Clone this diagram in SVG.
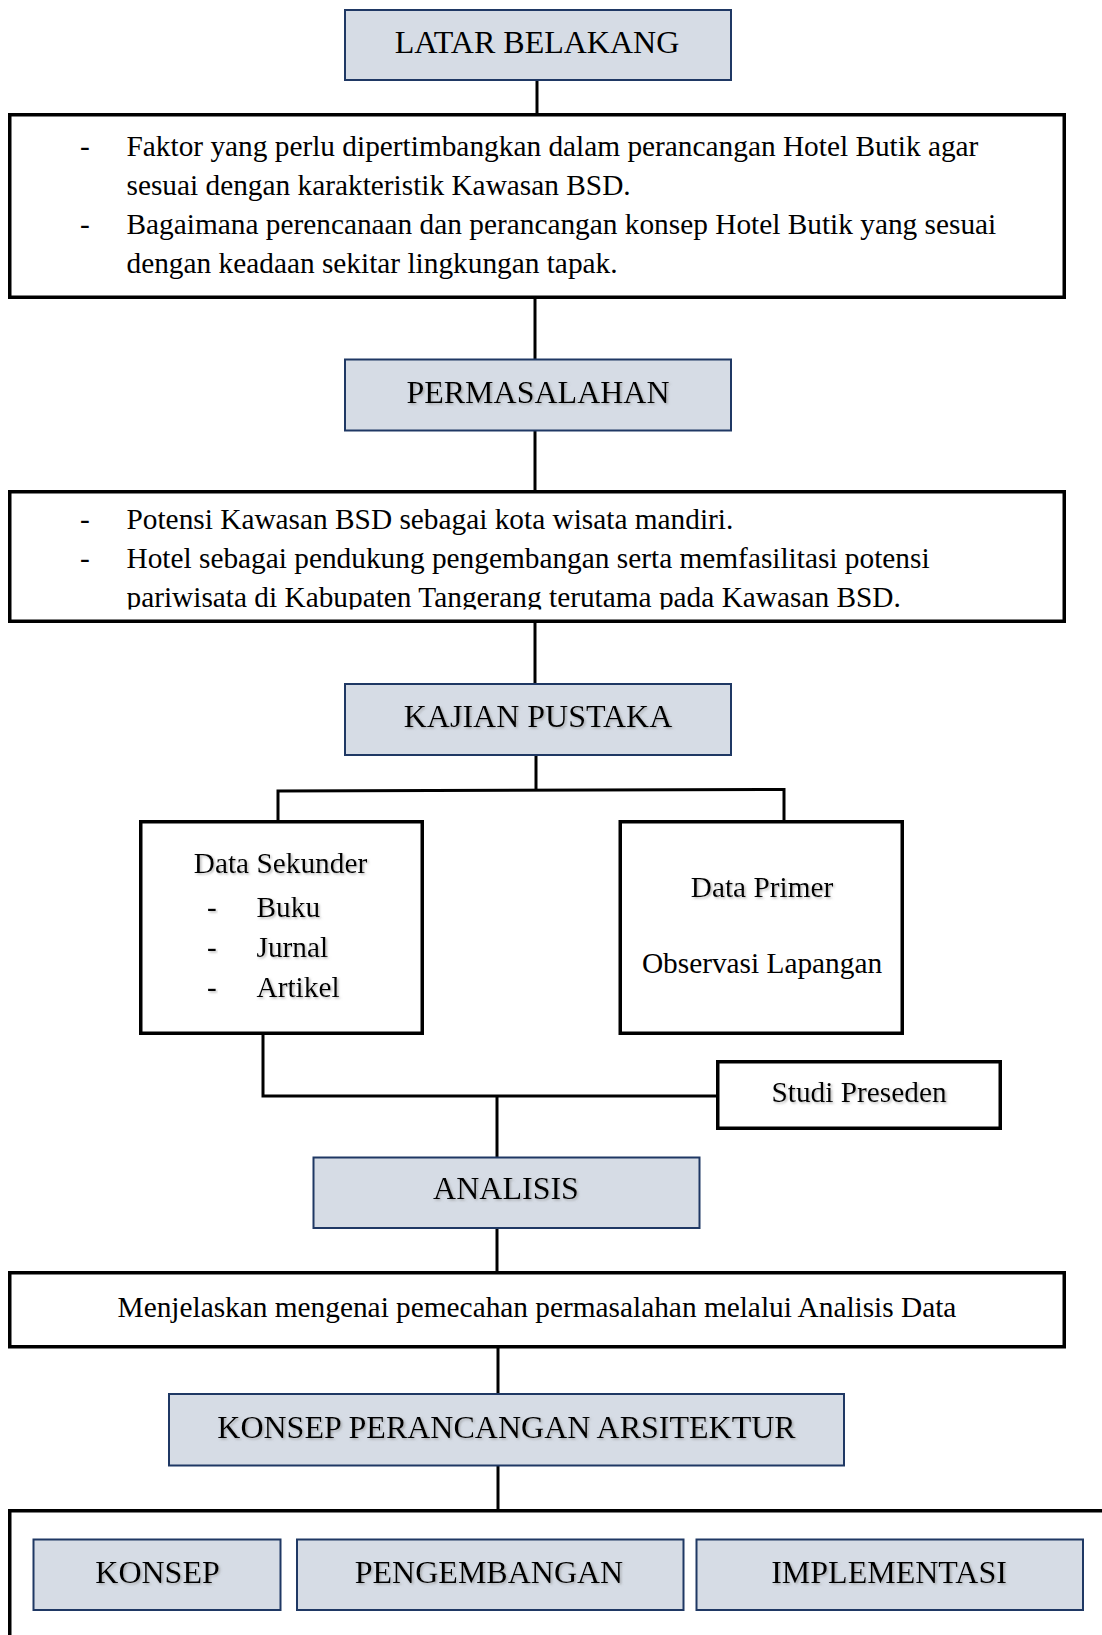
<svg xmlns="http://www.w3.org/2000/svg" width="1102" height="1635" viewBox="0 0 1102 1635">
  <defs>
    <style>
      .head { fill: #D6DCE5; stroke: #1F3864; stroke-width: 2; }
      .box { fill: #FFFFFF; stroke: #000000; stroke-width: 3.5; }
      .conn { fill: none; stroke: #000000; stroke-width: 3; }
      .ht { font-family: "Liberation Serif", "Times New Roman", serif; font-size: 32px; fill: #000; text-anchor: middle; }
      .bt { font-family: "Liberation Serif", "Times New Roman", serif; font-size: 29.33px; fill: #000; }
      .c { text-anchor: middle; }
      .sh { filter: url(#shadow); }
    </style>
    <filter id="shadow" x="-10%" y="-30%" width="120%" height="160%">
      <feDropShadow dx="1.5" dy="1.5" stdDeviation="0.8" flood-color="#7F7F7F" flood-opacity="0.55"/>
    </filter>
    <clipPath id="clip2">
      <rect x="20" y="495" width="1030" height="114.5"/>
    </clipPath>
  </defs>
  <rect width="1102" height="1635" fill="#FFFFFF"/>

  <g id="connectors">
    <line class="conn" x1="537" y1="80" x2="537" y2="114"/>
    <line class="conn" x1="535" y1="298" x2="535" y2="360"/>
    <line class="conn" x1="535" y1="430" x2="535" y2="491"/>
    <line class="conn" x1="535" y1="622" x2="535" y2="685"/>
    <line class="conn" x1="536" y1="754" x2="536" y2="791"/>
    <path class="conn" d="M278 822 V791 L784 789.5 V822"/>
    <path class="conn" d="M263 1033 V1096 H717"/>
    <line class="conn" x1="497" y1="1096" x2="497" y2="1158"/>
    <line class="conn" x1="497" y1="1228" x2="497" y2="1272"/>
    <line class="conn" x1="498" y1="1347" x2="498" y2="1395"/>
    <line class="conn" x1="498" y1="1465" x2="498" y2="1510"/>
  </g>

  <g id="latar-belakang">
    <rect class="head" x="345" y="10" width="386" height="70"/>
    <text class="ht" x="537" y="53">LATAR BELAKANG</text>
  </g>

  <g id="latar-isi">
    <rect class="box" x="9.75" y="114.75" width="1054.5" height="182.5"/>
    <text class="bt" x="80" y="156">-</text>
    <text class="bt" x="126.5" y="156">Faktor yang perlu dipertimbangkan dalam perancangan Hotel Butik agar</text>
    <text class="bt" x="126.5" y="195">sesuai dengan karakteristik Kawasan BSD.</text>
    <text class="bt" x="80" y="234">-</text>
    <text class="bt" x="126.5" y="234">Bagaimana perencanaan dan perancangan konsep Hotel Butik yang sesuai</text>
    <text class="bt" x="126.5" y="273">dengan keadaan sekitar lingkungan tapak.</text>
  </g>

  <g id="permasalahan">
    <rect class="head" x="345" y="359.5" width="386" height="71"/>
    <text class="ht sh" x="538" y="403">PERMASALAHAN</text>
  </g>

  <g id="permasalahan-isi">
    <rect class="box" x="9.75" y="491.75" width="1054.5" height="129.5"/>
    <g clip-path="url(#clip2)">
      <text class="bt" x="80" y="529">-</text>
      <text class="bt" x="126.5" y="529">Potensi Kawasan BSD sebagai kota wisata mandiri.</text>
      <text class="bt" x="80" y="567.5">-</text>
      <text class="bt" x="126.5" y="567.5">Hotel sebagai pendukung pengembangan serta memfasilitasi potensi</text>
      <text class="bt" x="126.5" y="606.5">pariwisata di Kabupaten Tangerang terutama pada Kawasan BSD.</text>
    </g>
  </g>

  <g id="kajian-pustaka">
    <rect class="head" x="345" y="684" width="386" height="71"/>
    <text class="ht sh" x="538" y="727">KAJIAN PUSTAKA</text>
  </g>

  <g id="data-sekunder">
    <rect class="box" x="140.75" y="821.75" width="281.5" height="211.5"/>
    <text class="bt c sh" x="280.5" y="873">Data Sekunder</text>
    <text class="bt sh" x="207" y="917">-</text>
    <text class="bt sh" x="256.5" y="917">Buku</text>
    <text class="bt sh" x="207" y="957">-</text>
    <text class="bt sh" x="256.5" y="957">Jurnal</text>
    <text class="bt sh" x="207" y="997">-</text>
    <text class="bt sh" x="256.5" y="997">Artikel</text>
  </g>

  <g id="data-primer">
    <rect class="box" x="620.25" y="821.75" width="282" height="211.5"/>
    <text class="bt c sh" x="762" y="897">Data Primer</text>
    <text class="bt c" x="762" y="973">Observasi Lapangan</text>
  </g>

  <g id="studi-preseden">
    <rect class="box" x="717.75" y="1061.75" width="282.5" height="66.5"/>
    <text class="bt c sh" x="859" y="1102">Studi Preseden</text>
  </g>

  <g id="analisis">
    <rect class="head" x="313.5" y="1157.5" width="386" height="70.5"/>
    <text class="ht sh" x="506" y="1199">ANALISIS</text>
  </g>

  <g id="analisis-isi">
    <rect class="box" x="9.75" y="1272.75" width="1054.5" height="74"/>
    <text class="bt c" x="537" y="1317">Menjelaskan mengenai pemecahan permasalahan melalui Analisis Data</text>
  </g>

  <g id="konsep-perancangan">
    <rect class="head" x="169" y="1394" width="675" height="71.5"/>
    <text class="ht sh" x="506.5" y="1438">KONSEP PERANCANGAN ARSITEKTUR</text>
  </g>

  <g id="konsep-wadah">
    <rect class="box" x="9.75" y="1510.75" width="1200" height="200"/>
  </g>

  <g id="konsep">
    <rect class="head" x="33.5" y="1539.5" width="247" height="70.5"/>
    <text class="ht sh" x="157.5" y="1582.5">KONSEP</text>
  </g>

  <g id="pengembangan">
    <rect class="head" x="297" y="1539.5" width="386.5" height="70.5"/>
    <text class="ht sh" x="489" y="1582.5">PENGEMBANGAN</text>
  </g>

  <g id="implementasi">
    <rect class="head" x="696.5" y="1539.5" width="386.5" height="70.5"/>
    <text class="ht sh" x="889" y="1582.5">IMPLEMENTASI</text>
  </g>
</svg>
